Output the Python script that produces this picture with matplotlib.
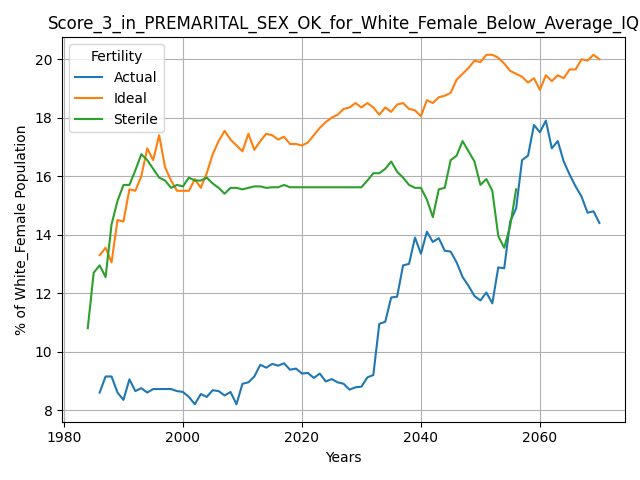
import matplotlib
matplotlib.use("Agg")
import matplotlib.pyplot as plt

actual_years = list(range(1986, 2071))
actual = [8.6, 9.15, 9.15, 8.6, 8.35, 9.05, 8.65, 8.75, 8.6, 8.72, 8.72, 8.72, 8.72, 8.65,
          8.62, 8.45, 8.2, 8.55, 8.45, 8.68, 8.65, 8.5, 8.62, 8.2, 8.9, 8.95, 9.15, 9.55, 9.45,
          9.58, 9.52, 9.6, 9.38, 9.42, 9.25, 9.27, 9.1, 9.25, 8.98, 9.06, 8.95, 8.9, 8.7, 8.78,
          8.8, 9.12, 9.2, 10.95, 11.02, 11.85, 11.88, 12.95, 13.0, 13.9, 13.35, 14.1, 13.75,
          13.88, 13.45, 13.42, 13.05, 12.55, 12.25, 11.9, 11.75, 12.02, 11.65, 12.88, 12.85,
          14.45, 14.9, 16.55, 16.7, 17.75, 17.5, 17.9, 16.95, 17.2, 16.5, 16.05, 15.65, 15.3,
          14.75, 14.8, 14.4]

ideal_years = list(range(1986, 2071))
ideal = [13.3, 13.55, 13.05, 14.5, 14.45, 15.55, 15.5, 16.0, 16.95, 16.55, 17.4, 16.3, 15.85,
         15.5, 15.5, 15.5, 15.9, 15.6, 16.1, 16.75, 17.2, 17.55, 17.25, 17.05, 16.85, 17.45,
         16.9, 17.2, 17.45, 17.4, 17.25, 17.35, 17.1, 17.1, 17.05, 17.15, 17.4, 17.65, 17.85,
         18.0, 18.1, 18.3, 18.35, 18.5, 18.35, 18.5, 18.35, 18.1, 18.35, 18.2, 18.45, 18.5,
         18.3, 18.25, 18.05, 18.6, 18.5, 18.7, 18.75, 18.85, 19.3, 19.5, 19.7, 19.95, 19.9,
         20.15, 20.15, 20.05, 19.85, 19.6, 19.5, 19.4, 19.2, 19.35, 18.95, 19.45, 19.25, 19.45,
         19.35, 19.65, 19.65, 20.0, 19.95, 20.15, 20.0]

sterile_years = list(range(1984, 2057))
sterile = [10.8, 12.7, 12.95, 12.55, 14.35, 15.15, 15.7, 15.7, 16.2, 16.75, 16.55, 16.25,
           15.95, 15.85, 15.6, 15.7, 15.65, 15.95, 15.85, 15.85, 15.95, 15.75, 15.6, 15.4,
           15.6, 15.6, 15.55, 15.6, 15.65, 15.65, 15.6, 15.62, 15.62, 15.7, 15.62, 15.62,
           15.62, 15.62, 15.62, 15.62, 15.62, 15.62, 15.62, 15.62, 15.62, 15.62, 15.62,
           15.85, 16.1, 16.1, 16.25, 16.5, 16.15, 15.95, 15.7, 15.6, 15.6, 15.2, 14.6, 15.55,
           15.6, 16.55, 16.7, 17.2, 16.85, 16.5, 15.7, 15.9, 15.5, 13.95, 13.55, 14.3, 15.55]

fig, ax = plt.subplots(figsize=(6.4, 4.8), dpi=100)
ax.plot(actual_years, actual, label="Actual")
ax.plot(ideal_years, ideal, label="Ideal")
ax.plot(sterile_years, sterile, label="Sterile")
ax.set_xlabel("Years")
ax.set_ylabel("% of White_Female Population")
ax.set_title("Score_3_in_PREMARITAL_SEX_OK_for_White_Female_Below_Average_IQ")
ax.legend(title="Fertility", loc="upper left")
ax.grid(True)
plt.tight_layout()
plt.savefig("out.png")
